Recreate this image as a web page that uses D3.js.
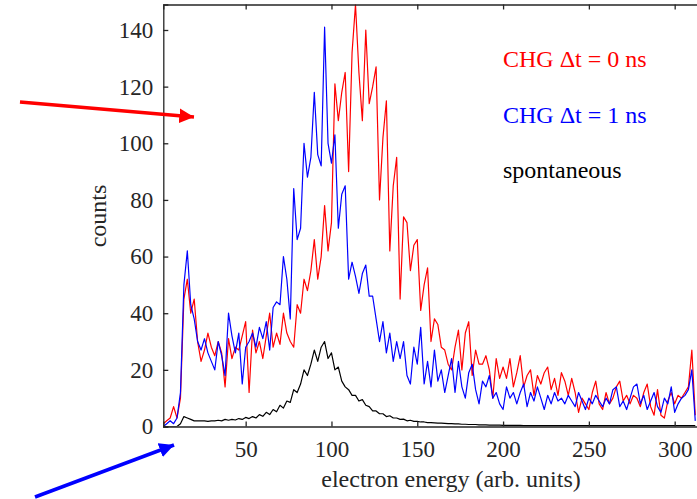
<!DOCTYPE html>
<html>
<head>
<meta charset="utf-8">
<script src="https://cdn.jsdelivr.net/npm/d3@7"></script>
<style>
  body { margin: 0; background: #fff; }
  text { font-family: "Liberation Serif", "Times New Roman", serif; }
</style>
</head>
<body>
<script>
var W = 697, H = 499;

// electron energy grid (arb. units), one sample every 2 units
var energy = d3.range(2, 313, 2);

// CHG dt = 0 ns
var chg0 = [1,2,3,7,3,10,45,52,40,45,30,23,27,33,28,25,30,26,14,31,
  24,28,27,32,37,12,34,26,30,24,32,40,28,33,29,40,33,30,28,43,
  40,52,48,55,66,52,60,78,62,72,121,108,118,125,90,132,149,125,108,140,
  114,120,127,80,102,115,62,85,95,45,74,72,55,64,66,41,50,56,30,38,
  36,28,27,22,20,28,34,20,33,37,18,27,22,22,25,20,10,24,17,21,
  17,24,14,19,25,14,18,20,11,18,15,19,21,13,17,11,19,16,11,17,
  12,5,10,8,6,12,16,8,6,12,8,10,14,16,9,11,8,11,10,7,
  12,15,7,4,13,4,3,9,12,8,11,10,12,14,27,4];

// CHG dt = 1 ns
var chg1 = [0,1,2,1,3,12,50,62,43,38,30,27,31,26,23,20,30,25,18,40,
  32,26,33,15,28,30,33,28,35,31,37,27,42,44,43,60,52,38,84,66,
  70,100,88,95,118,96,92,141,100,93,103,70,82,85,52,58,53,47,54,57,
  46,46,38,30,37,26,33,23,30,24,30,18,15,28,22,35,15,23,14,27,
  16,20,12,18,24,12,23,14,10,19,22,13,8,16,14,18,10,12,8,6,
  14,10,12,8,12,15,7,12,9,14,10,6,11,8,12,9,10,8,11,9,
  7,12,9,6,10,8,11,9,7,10,8,13,14,7,9,6,10,14,15,8,
  11,6,9,12,7,5,10,8,14,5,8,10,11,13,20,2];

// spontaneous
var spont = [0,0,0,0,0,1,3.5,3,2.5,2,2,2,2,1.8,2,2,2.2,2,2.5,2.2,
  2.5,2.3,2.8,2.5,3.2,2.8,3.5,3,4.2,3.6,5,4.2,6,5.2,7.5,6.5,9,8.5,13,12,
  15,20,18,22,27,23,28,30,24,26,20,21,16,14,13,11,11,9,9.5,7.5,
  7,5.5,5.5,4.5,4.5,3.5,3.8,3,3,2.5,2.6,2,2.2,1.8,1.8,1.6,1.6,1.4,1.4,1.3,
  1.2,1.2,1.1,1,1,0.9,0.9,0.8,0.8,0.7,0.7,0.7,0.6,0.6,0.6,0.5,0.5,0.5,0.5,0.4,
  0.4,0.4,0.4,0.4,0.4,0.3,0.3,0.3,0.3,0.3,0.3,0.3,0.3,0.3,0.3,0.3,0.3,0.3,0.3,0.3,
  0.3,0.3,0.3,0.3,0.3,0.3,0.3,0.3,0.3,0.3,0.3,0.3,0.3,0.3,0.3,0.3,0.3,0.3,0.3,0.3,
  0.3,0.3,0.3,0.3,0.3,0.3,0.3,0.3,0.3,0.3,0.3,0.3,0.3,0.3,0.3,0.3];

var xTicks = [50, 100, 150, 200, 250, 300];
var yTicks = [0, 20, 40, 60, 80, 100, 120, 140];

var series = [
  {name: "CHG \u0394t = 0 ns", values: chg0, color: "#ff0000"},
  {name: "CHG \u0394t = 1 ns", values: chg1, color: "#0000ff"},
  {name: "spontaneous", values: spont, color: "#000000"}
];

var plot = {left: 163.3, right: 698.7, top: 4.5, bottom: 426.5};
var axisColor = "#262626";

var x = d3.scaleLinear().domain([2, 314]).range([plot.left, plot.right]);
var y = d3.scaleLinear().domain([0, 149]).range([plot.bottom, plot.top]);

var svg = d3.select("body").append("svg")
  .attr("width", W)
  .attr("height", H);

var defs = svg.append("defs");
defs.append("clipPath").attr("id", "clip")
  .append("rect")
  .attr("x", plot.left).attr("y", plot.top)
  .attr("width", plot.right - plot.left)
  .attr("height", plot.bottom - plot.top);

["red", "blue"].forEach(function(c) {
  defs.append("marker")
    .attr("id", "head-" + c)
    .attr("viewBox", "0 0 10 10")
    .attr("refX", 10).attr("refY", 5)
    .attr("markerWidth", 4.2).attr("markerHeight", 4.4)
    .attr("markerUnits", "strokeWidth")
    .attr("orient", "auto")
    .append("path")
    .attr("d", "M0,0 L10,5 L0,10 Z")
    .attr("fill", c === "red" ? "#ff0000" : "#0000ff");
});

// lines
var line = d3.line()
  .x(function(d, i) { return x(energy[i]); })
  .y(function(d) { return y(d); });

svg.append("g").attr("clip-path", "url(#clip)")
  .selectAll("path")
  .data(series)
  .enter().append("path")
  .attr("d", function(d) { return line(d.values); })
  .attr("fill", "none")
  .attr("stroke", function(d) { return d.color; })
  .attr("stroke-width", 1.2)
  .attr("stroke-linejoin", "round");

// axes (ticks point inward like matlab)
var fontSize = 23;

var gx = svg.append("g")
  .attr("transform", "translate(0," + plot.bottom + ")")
  .call(d3.axisBottom(x).tickValues(xTicks).tickSize(-5).tickPadding(14));

var gxTop = svg.append("g")
  .attr("transform", "translate(0," + plot.top + ")")
  .call(d3.axisTop(x).tickValues(xTicks).tickSize(-5).tickFormat(""));

var gy = svg.append("g")
  .attr("transform", "translate(" + plot.left + ",0)")
  .call(d3.axisLeft(y).tickValues(yTicks).tickSize(-5).tickPadding(10));

[gx, gxTop, gy].forEach(function(g) {
  g.select(".domain").attr("stroke", axisColor).attr("stroke-width", 1.3);
  g.selectAll(".tick line").attr("stroke", axisColor).attr("stroke-width", 1.3);
  g.selectAll(".tick text")
    .attr("fill", axisColor)
    .style("font-family", "'Liberation Serif', serif")
    .style("font-size", fontSize + "px");
});

// axis labels
svg.append("text")
  .attr("x", 451)
  .attr("y", 487)
  .attr("text-anchor", "middle")
  .attr("fill", axisColor)
  .style("font-size", "24px")
  .text("electron energy (arb. units)");

svg.append("text")
  .attr("transform", "translate(106,216) rotate(-90)")
  .attr("text-anchor", "middle")
  .attr("fill", axisColor)
  .style("font-size", "24px")
  .text("counts");

// legend texts
var legendY = [67, 123, 178];
svg.selectAll(".legend")
  .data(series)
  .enter().append("text")
  .attr("class", "legend")
  .attr("x", 503)
  .attr("y", function(d, i) { return legendY[i]; })
  .attr("fill", function(d) { return d.color; })
  .style("font-size", "24px")
  .text(function(d) { return d.name; });

// annotation arrows
svg.append("line")
  .attr("x1", 20).attr("y1", 102)
  .attr("x2", 194).attr("y2", 117)
  .attr("stroke", "#ff0000")
  .attr("stroke-width", 3.5)
  .attr("marker-end", "url(#head-red)");

svg.append("line")
  .attr("x1", 35).attr("y1", 497)
  .attr("x2", 174).attr("y2", 445)
  .attr("stroke", "#0000ff")
  .attr("stroke-width", 3.5)
  .attr("marker-end", "url(#head-blue)");
</script>
</body>
</html>
